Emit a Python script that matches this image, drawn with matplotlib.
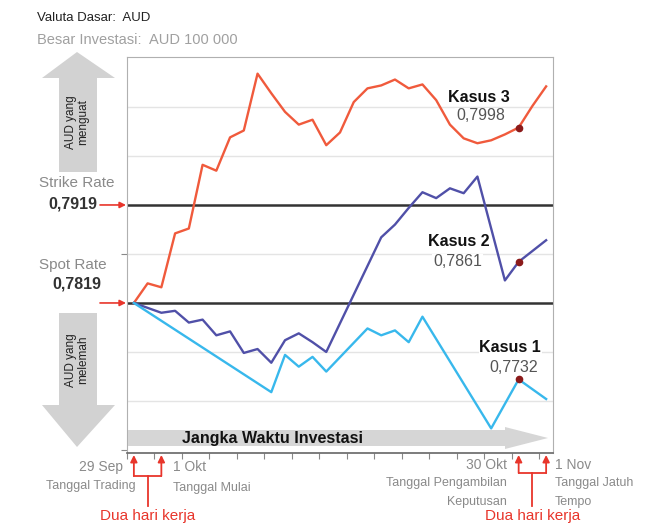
import numpy as np
import matplotlib
matplotlib.use('Agg')
import matplotlib.pyplot as plt
from matplotlib.patches import Polygon

plt.rcParams['font.family'] = ['Liberation Sans', 'DejaVu Sans']

# nilai tukar (AUD/USD)
strike_rate = 0.7919
spot_rate = 0.7819
grid_levels = [0.7719, 0.7769, 0.7869, 0.7969, 0.8019]

# Kasus 3 (merah)
kasus3_x = list(range(31))
kasus3 = [0.7819, 0.7839, 0.7835, 0.7890, 0.7895, 0.7960, 0.7954, 0.7988, 0.7995, 0.8053,
          0.8033, 0.8014, 0.8001, 0.8006, 0.7980, 0.7993, 0.8024, 0.8038, 0.8041, 0.8047,
          0.8038, 0.8042, 0.8026, 0.8001, 0.7987, 0.7982, 0.7985, 0.7991, 0.7998, 0.8020,
          0.8040]

# Kasus 2 (biru tua)
kasus2_x = [0, 2, 3, 4, 5, 6, 7, 8, 9, 10, 11, 12, 13, 14, 18, 19, 20, 21, 22, 23, 24, 25, 27, 28, 30]
kasus2 = [0.7819, 0.7809, 0.7811, 0.7799, 0.7802, 0.7786, 0.7790, 0.7768, 0.7772, 0.7758,
          0.7781, 0.7788, 0.7779, 0.7769, 0.7886, 0.7899, 0.7916, 0.7932, 0.7926, 0.7936,
          0.7931, 0.7948, 0.7842, 0.7861, 0.7883]

# Kasus 1 (biru muda)
kasus1_x = [0, 10, 11, 12, 13, 14, 17, 18, 19, 20, 21, 26, 28, 30]
kasus1 = [0.7819, 0.7728, 0.7766, 0.7754, 0.7764, 0.7749, 0.7793, 0.7786, 0.7791, 0.7779,
          0.7805, 0.7691, 0.7741, 0.7721]

case_names = ['Kasus 1', 'Kasus 2', 'Kasus 3']
case_labels = ['0,7732', '0,7861', '0,7998']
decision_idx = 28

date_idx = [0, 2, 28, 30]
date_labels = ['29 Sep', '1 Okt', '30 Okt', '1 Nov']

red = '#E8352B'
c3 = '#F05A3C'
c2 = '#5050A8'
c1 = '#38B8EC'
gray_txt = '#8a8a8a'

fig = plt.figure(figsize=(6.5, 5.23), dpi=100)
ax = fig.add_axes([127/650, 70/523, 426/650, 396/523])

for g in grid_levels:
    ax.axhline(g, color='#e4e4e4', lw=1, zorder=1)
ax.axhline(strike_rate, color='#333333', lw=1.8, zorder=2)
ax.axhline(spot_rate, color='#333333', lw=1.8, zorder=2)

ax.plot(kasus3_x, kasus3, color=c3, lw=1.7, zorder=3)
ax.plot(kasus2_x, kasus2, color=c2, lw=1.7, zorder=3)
ax.plot(kasus1_x, kasus1, color=c1, lw=1.7, zorder=3)

for xs, ys in [(kasus1_x, kasus1), (kasus2_x, kasus2), (kasus3_x, kasus3)]:
    ax.plot(decision_idx, ys[xs.index(decision_idx)], 'o', color='#8B1A1A', ms=4.5, zorder=5)

ax.set_xlim(-0.44, 30.5)
ax.set_ylim(0.76659, 0.80700)
ax.set_xticks(np.arange(-0.5, 30, 2))
ax.set_yticks([0.7669, 0.7869])
ax.tick_params(axis='both', direction='out', length=4, color='#888888',
               labelbottom=False, labelleft=False)
for s in ['top', 'right', 'left']:
    ax.spines[s].set_color('#b0b0b0')
ax.spines['bottom'].set_color('#666666')
ax.spines['bottom'].set_linewidth(1.2)

# lapisan dekorasi dalam koordinat piksel
deco = fig.add_axes([0, 0, 1, 1], zorder=3)
deco.set_xlim(0, 650)
deco.set_ylim(523, 0)
deco.axis('off')
deco.patch.set_alpha(0)


def px_x(i):
    return ax.transData.transform((i, spot_rate))[0]


def px_y(v):
    return 523 - ax.transData.transform((0, v))[1]


deco.text(37, 18, 'Valuta Dasar:  AUD', fontsize=9.5, color='#222222', va='center')
deco.text(37, 40, 'Besar Investasi:  AUD 100 000', fontsize=10.5, color='#a0a0a0', va='center')

# panah besar di kiri
arrow_gray = '#d2d2d2'
deco.add_patch(Polygon([(77, 52), (115, 78), (97, 78), (97, 172), (59, 172), (59, 78), (42, 78)],
                       closed=True, color=arrow_gray, lw=0))
deco.add_patch(Polygon([(59, 313), (97, 313), (97, 405), (115, 405), (77, 447), (42, 405), (59, 405)],
                       closed=True, color=arrow_gray, lw=0))
deco.text(77, 122, 'AUD yang\nmenguat', rotation=90, fontsize=8.5, color='#222222',
          ha='center', va='center', linespacing=1.05)
deco.text(77, 360, 'AUD yang\nmelemah', rotation=90, fontsize=8.5, color='#222222',
          ha='center', va='center', linespacing=1.05)

# strike dan spot
deco.text(77, 183, 'Strike Rate', fontsize=11, color=gray_txt, ha='center', va='center')
deco.text(73, 204, '0,7919', fontsize=11.5, color='#333333', fontweight='bold', ha='center', va='center')
deco.text(73, 265, 'Spot Rate', fontsize=11, color=gray_txt, ha='center', va='center')
deco.text(77, 284, '0,7819', fontsize=11.5, color='#333333', fontweight='bold', ha='center', va='center')
for v in [strike_rate, spot_rate]:
    yy = px_y(v)
    deco.annotate('', xy=(126, yy), xytext=(100, yy),
                  arrowprops=dict(arrowstyle='-|>', color=red, lw=1.2, mutation_scale=9,
                                  shrinkA=0, shrinkB=0))

# pita jangka waktu
deco.add_patch(Polygon([(128, 430), (505, 430), (505, 427), (548, 438), (505, 449), (505, 446), (128, 446)],
                       closed=True, color='#d6d6d6', lw=0))
deco.text(272, 438, 'Jangka Waktu Investasi', fontsize=11.5, fontweight='bold', color='#111111',
          ha='center', va='center')

# label kasus
kasus_pos = [(541, 347, 538, 367), (490, 242, 482, 262), (510, 98, 505, 116)]
for name, lab, (x1, y1, x2, y2) in zip(case_names, case_labels, kasus_pos):
    deco.text(x1, y1, name, fontsize=11.5, fontweight='bold', color='#111111', ha='right', va='center',
              bbox=dict(facecolor='white', edgecolor='none', pad=0.5))
    deco.text(x2, y2, lab, fontsize=11.5, color='#555555', ha='right', va='center',
              bbox=dict(facecolor='white', edgecolor='none', pad=0.5))

# tanggal di bawah
xa, xb, xc, xd = [px_x(i) for i in date_idx]
deco.text(123, 467, date_labels[0], fontsize=10, color=gray_txt, ha='right', va='center')
deco.text(91, 486, 'Tanggal Trading', fontsize=9, color=gray_txt, ha='center', va='center')
deco.text(173, 467, date_labels[1], fontsize=10, color=gray_txt, ha='left', va='center')
deco.text(173, 488, 'Tanggal Mulai', fontsize=9, color=gray_txt, ha='left', va='center')
deco.text(507, 465, date_labels[2], fontsize=10, color=gray_txt, ha='right', va='center')
deco.text(507, 483, 'Tanggal Pengambilan', fontsize=9, color=gray_txt, ha='right', va='center')
deco.text(507, 502, 'Keputusan', fontsize=9, color=gray_txt, ha='right', va='center')
deco.text(555, 465, date_labels[3], fontsize=10, color=gray_txt, ha='left', va='center')
deco.text(555, 483, 'Tanggal Jatuh', fontsize=9, color=gray_txt, ha='left', va='center')
deco.text(555, 502, 'Tempo', fontsize=9, color=gray_txt, ha='left', va='center')

for (p, q, yb) in [(xa, xb, 476), (xc, xd, 473)]:
    for xx in (p, q):
        deco.annotate('', xy=(xx, 455), xytext=(xx, yb),
                      arrowprops=dict(arrowstyle='-|>', color=red, lw=1.3, mutation_scale=10,
                                      shrinkA=0, shrinkB=0))
    deco.plot([p, q], [yb, yb], color=red, lw=1.3)
    deco.plot([(p + q) / 2, (p + q) / 2], [yb, 506], color=red, lw=1.3)
    deco.text((p + q) / 2, 516, 'Dua hari kerja', fontsize=11, color=red, ha='center', va='center')

fig.savefig('out.png', dpi=100)
